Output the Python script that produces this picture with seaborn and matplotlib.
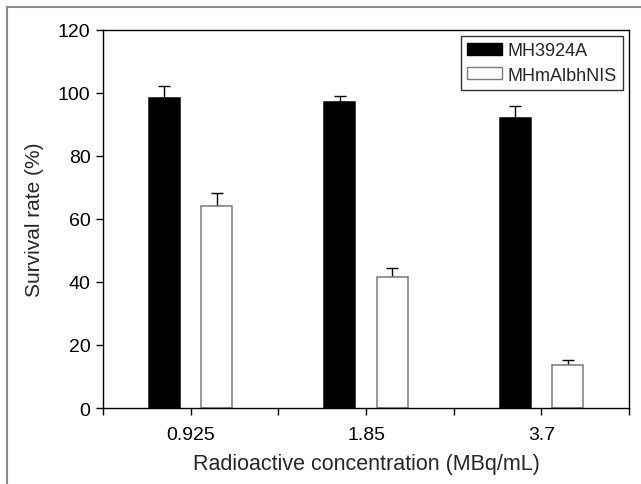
import matplotlib
matplotlib.use("Agg")
import matplotlib.pyplot as plt
from matplotlib.lines import Line2D
from matplotlib.patches import Patch
import numpy as np
import pandas as pd
import seaborn as sns

# Survival data
concentrations = ["0.925", "1.85", "3.7"]
cell_lines = ["MH3924A", "MHmAlbhNIS"]
survival_mh3924a = [98.2, 97.1, 92.0]
survival_mhmalbhnis = [64.0, 41.6, 13.5]
sd_mh3924a = [4.0, 2.0, 3.7]
sd_mhmalbhnis = [4.1, 2.8, 1.6]

df = pd.DataFrame({
    "conc": concentrations * 2,
    "line": [cell_lines[0]] * 3 + [cell_lines[1]] * 3,
    "survival": survival_mh3924a + survival_mhmalbhnis,
    "sd": sd_mh3924a + sd_mhmalbhnis,
})

sns.set_style("white")
plt.rcParams["font.family"] = ["Liberation Sans", "DejaVu Sans"]

fig = plt.figure(figsize=(6.41, 4.85), dpi=100)
ax = fig.add_axes([0.1607, 0.1567, 0.8206, 0.7800])

palette = {cell_lines[0]: "black", cell_lines[1]: "white"}
sns.barplot(data=df, x="conc", y="survival", hue="line", order=concentrations,
            hue_order=cell_lines, palette=palette, width=0.6, gap=0.41,
            errorbar=None, ax=ax, legend=False, zorder=2)

# Outline each bar: black for the parental line, grey for the NIS line
edge_colors = ["black"] * 3 + ["#7a7a7a"] * 3
for patch, ec in zip(ax.patches, edge_colors):
    patch.set_edgecolor(ec)
    patch.set_linewidth(1.1)

# Upward-only error bars on top of each bar
sub = df.set_index(["line", "conc"])
for i, patch in enumerate(ax.patches[:6]):
    line = cell_lines[i // 3]
    conc = concentrations[i % 3]
    val = sub.loc[(line, conc), "survival"]
    err = sub.loc[(line, conc), "sd"]
    xc = patch.get_x() + patch.get_width() / 2
    ax.errorbar([xc], [val], yerr=[[0], [err]], fmt="none", ecolor="black",
                elinewidth=1.0, capsize=4, capthick=1.0, zorder=1)

ax.set_xlim(-0.5, 2.5)
ax.set_ylim(0, 120)
ax.set_yticks(np.arange(0, 121, 20))
ax.set_xticks([0, 1, 2])
ax.set_xticks([-0.5, 0.5, 1.5, 2.5], minor=True)
ax.set_xticklabels(concentrations)

ax.tick_params(axis="both", which="both", direction="out", length=5, width=1,
               color="black", labelsize=14, labelcolor="black", pad=4)
ax.tick_params(axis="x", which="major", pad=8)
ax.tick_params(axis="y", which="both", left=True)
ax.tick_params(axis="x", which="both", bottom=True)

for side in ["left", "right", "top", "bottom"]:
    ax.spines[side].set_visible(True)
    ax.spines[side].set_color("black")
    ax.spines[side].set_linewidth(1.0)

ax.set_xlabel("Radioactive concentration (MBq/mL)", fontsize=15.5, labelpad=7)
ax.set_ylabel("Survival rate (%)", fontsize=15, labelpad=10)

handles = [Patch(facecolor="black", edgecolor="black"),
           Patch(facecolor="white", edgecolor="#7a7a7a")]
leg = ax.legend(handles, cell_lines, loc="upper right", fontsize=13,
                frameon=True, fancybox=False, handlelength=1.9,
                handleheight=0.6, handletextpad=0.3, borderpad=0.35,
                labelspacing=0.4, borderaxespad=0.35)
leg.get_frame().set_edgecolor("black")
leg.get_frame().set_linewidth(1.0)

# Thin grey frame along the top and left of the figure
fig.add_artist(Line2D([7 / 641, 7 / 641], [0, 1 - 8 / 485],
                      transform=fig.transFigure, color="#8a8a8a", lw=1.5))
fig.add_artist(Line2D([7 / 641, 1], [1 - 8 / 485, 1 - 8 / 485],
                      transform=fig.transFigure, color="#8a8a8a", lw=1.5))

fig.savefig("out.png", dpi=100)
